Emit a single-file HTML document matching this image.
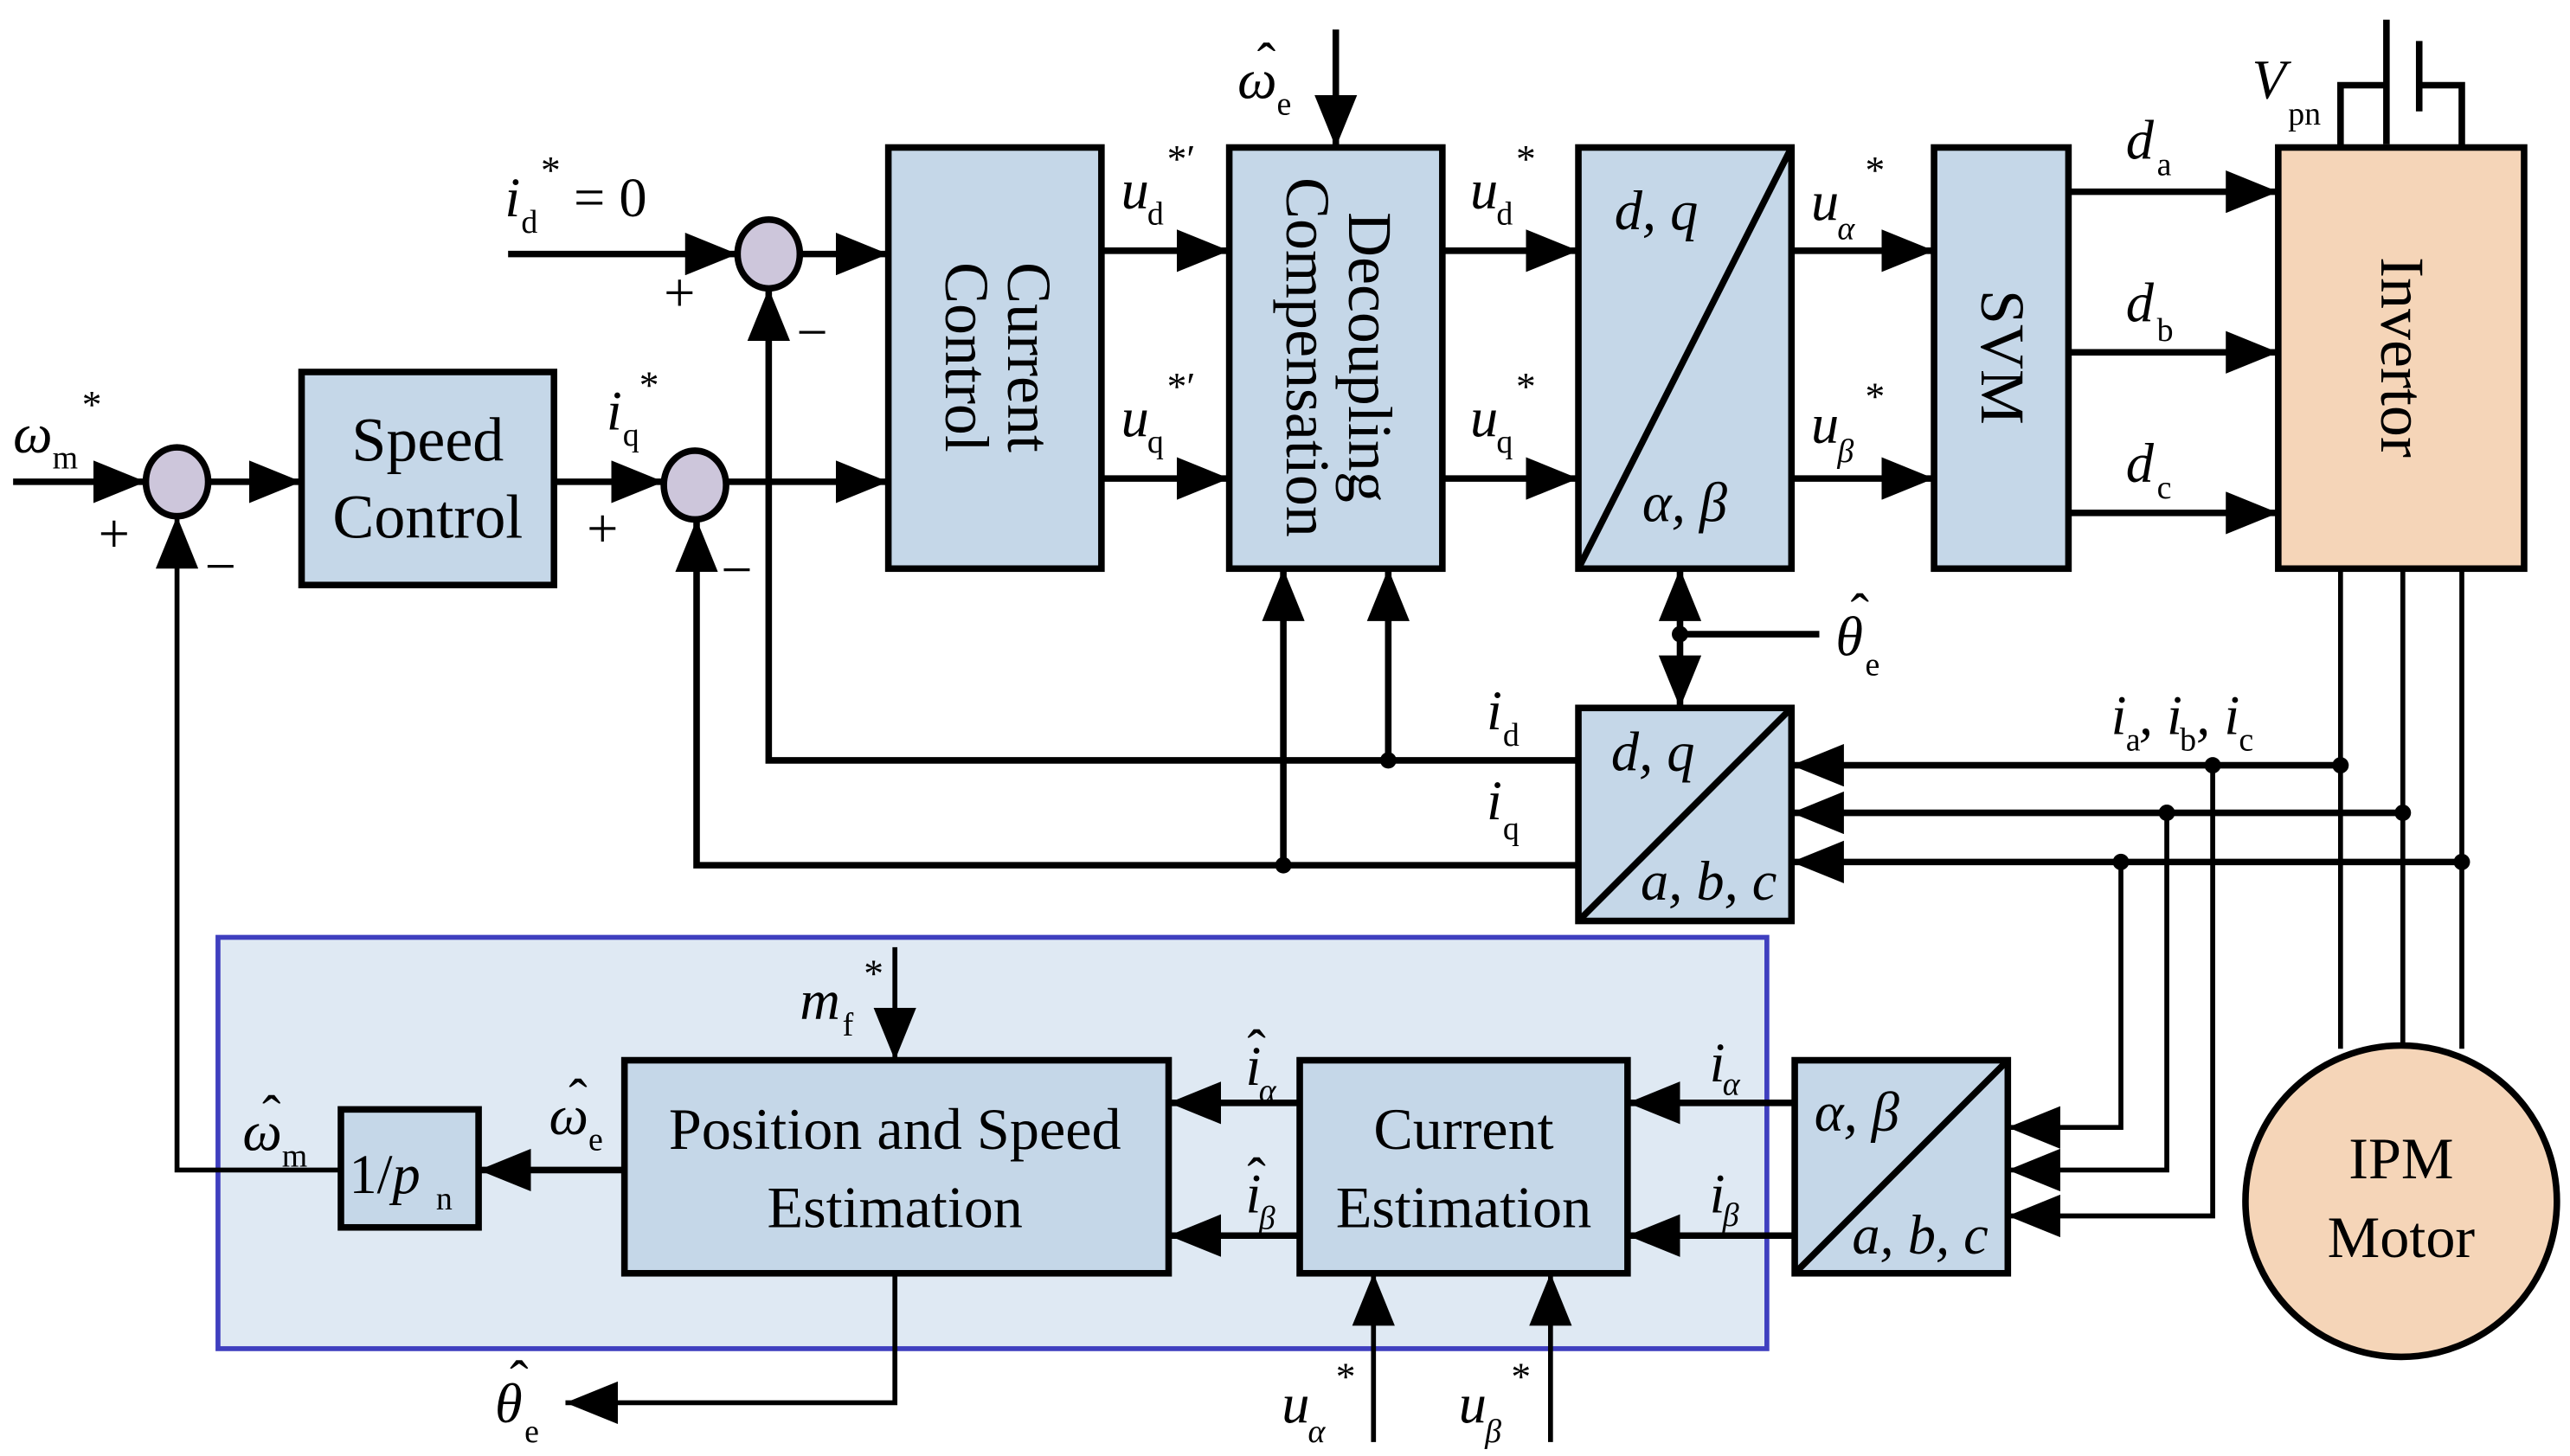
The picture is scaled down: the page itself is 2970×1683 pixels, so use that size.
<!DOCTYPE html>
<html><head><meta charset="utf-8"><style>
html,body{margin:0;padding:0;background:#fff}
svg{display:block}
text{font-family:"Liberation Serif",serif;fill:#000}
.i{font-style:italic}
</style></head><body>
<svg width="2970" height="1683" viewBox="0 0 1568 888.5" preserveAspectRatio="none" xmlns="http://www.w3.org/2000/svg">
<defs>
<marker id="a" markerUnits="userSpaceOnUse" markerWidth="32" markerHeight="26" refX="32" refY="13" orient="auto">
<path d="M0,0 L32,13 L0,26 z" fill="#000"/></marker>
</defs>
<g stroke="#000" stroke-width="4" fill="none">
<rect x="133" y="572" width="945" height="251" fill="#dfe9f3" stroke="#3f3fbf" stroke-width="3"/>
<rect x="184" y="227" width="154" height="130" fill="#c5d7e8"/>
<rect x="542" y="90" width="130" height="257" fill="#c5d7e8"/>
<rect x="750" y="90" width="130" height="257" fill="#c5d7e8"/>
<rect x="963" y="90" width="130" height="257" fill="#c5d7e8"/>
<line x1="1093" y1="90" x2="963" y2="347"/>
<rect x="1180" y="90" width="82" height="257" fill="#c5d7e8"/>
<rect x="1390" y="90" width="150" height="257" fill="#f5d5b8"/>
<rect x="963" y="432" width="130" height="130" fill="#c5d7e8"/>
<line x1="1093" y1="432" x2="963" y2="562"/>
<rect x="381" y="647" width="332" height="130" fill="#c5d7e8"/>
<rect x="793" y="647" width="200" height="130" fill="#c5d7e8"/>
<rect x="1095" y="647" width="130" height="130" fill="#c5d7e8"/>
<line x1="1225" y1="647" x2="1095" y2="777"/>
<rect x="208" y="677" width="84" height="72" fill="#c5d7e8"/>
<ellipse cx="108" cy="294" rx="19" ry="21" fill="#cdc6db"/>
<ellipse cx="424" cy="296" rx="19" ry="21" fill="#cdc6db"/>
<ellipse cx="469" cy="155" rx="19" ry="21" fill="#cdc6db"/>
<circle cx="1465" cy="733" r="95" fill="#f5d5b8"/>
<line x1="8" y1="294" x2="89" y2="294" marker-end="url(#a)"/>
<line x1="127" y1="294" x2="184" y2="294" marker-end="url(#a)"/>
<line x1="338" y1="294" x2="405" y2="294" marker-end="url(#a)"/>
<line x1="443" y1="294" x2="542" y2="294" marker-end="url(#a)"/>
<line x1="310" y1="155" x2="450" y2="155" marker-end="url(#a)"/>
<line x1="488" y1="155" x2="542" y2="155" marker-end="url(#a)"/>
<line x1="672" y1="153" x2="750" y2="153" marker-end="url(#a)"/>
<line x1="672" y1="292" x2="750" y2="292" marker-end="url(#a)"/>
<line x1="815" y1="18" x2="815" y2="90" marker-end="url(#a)"/>
<line x1="880" y1="153" x2="963" y2="153" marker-end="url(#a)"/>
<line x1="880" y1="292" x2="963" y2="292" marker-end="url(#a)"/>
<line x1="1093" y1="153" x2="1180" y2="153" marker-end="url(#a)"/>
<line x1="1093" y1="292" x2="1180" y2="292" marker-end="url(#a)"/>
<line x1="1262" y1="117" x2="1390" y2="117" marker-end="url(#a)"/>
<line x1="1262" y1="215" x2="1390" y2="215" marker-end="url(#a)"/>
<line x1="1262" y1="313" x2="1390" y2="313" marker-end="url(#a)"/>
<polyline points="1428,90 1428,52 1456,52"/>
<polyline points="1502,90 1502,52 1476,52"/>
<line x1="1456" y1="12" x2="1456" y2="88"/>
<line x1="1476" y1="25" x2="1476" y2="68"/>
<line x1="1025" y1="387" x2="1025" y2="347" marker-end="url(#a)"/>
<line x1="1025" y1="387" x2="1025" y2="432" marker-end="url(#a)"/>
<line x1="1025" y1="387" x2="1110" y2="387"/>
<polyline points="963,464 469,464 469,176" marker-end="url(#a)"/>
<polyline points="963,528 425,528 425,317" marker-end="url(#a)"/>
<line x1="847" y1="464" x2="847" y2="347" marker-end="url(#a)"/>
<line x1="783" y1="528" x2="783" y2="347" marker-end="url(#a)"/>
<g stroke-width="3">
<line x1="1428" y1="347" x2="1428" y2="640"/>
<line x1="1466" y1="347" x2="1466" y2="638"/>
<line x1="1502" y1="347" x2="1502" y2="640"/>
<polyline points="1350,467 1350,742 1225,742" marker-end="url(#a)"/>
<polyline points="1322,496 1322,714 1225,714" marker-end="url(#a)"/>
<polyline points="1294,526 1294,688 1225,688" marker-end="url(#a)"/>
</g>
<line x1="1428" y1="467" x2="1093" y2="467" marker-end="url(#a)"/>
<line x1="1466" y1="496" x2="1093" y2="496" marker-end="url(#a)"/>
<line x1="1502" y1="526" x2="1093" y2="526" marker-end="url(#a)"/>
<line x1="1095" y1="673" x2="993" y2="673" marker-end="url(#a)"/>
<line x1="1095" y1="754" x2="993" y2="754" marker-end="url(#a)"/>
<line x1="793" y1="673" x2="713" y2="673" marker-end="url(#a)"/>
<line x1="793" y1="754" x2="713" y2="754" marker-end="url(#a)"/>
<line x1="381" y1="714" x2="292" y2="714" marker-end="url(#a)"/>
<polyline points="208,714 108,714 108,315" marker-end="url(#a)" stroke-width="3"/>
<line x1="546" y1="578" x2="546" y2="647" marker-end="url(#a)" stroke-width="3"/>
<polyline points="546,777 546,856 345,856" marker-end="url(#a)" stroke-width="3"/>
<line x1="838" y1="880" x2="838" y2="777" marker-end="url(#a)" stroke-width="3"/>
<line x1="946" y1="880" x2="946" y2="777" marker-end="url(#a)" stroke-width="3"/>
</g>
<g fill="#000">
<circle cx="1025" cy="387" r="5"/><circle cx="847" cy="464" r="5"/><circle cx="783" cy="528" r="5"/>
<circle cx="1428" cy="467" r="5"/><circle cx="1350" cy="467" r="5"/>
<circle cx="1466" cy="496" r="5"/><circle cx="1322" cy="496" r="5"/>
<circle cx="1502" cy="526" r="5"/><circle cx="1294" cy="526" r="5"/>
</g>
<g font-size="38" text-anchor="middle">
<text x="261" y="281">Speed</text><text x="261" y="328">Control</text>
<text transform="translate(607,218) rotate(90)" y="-8">Current</text>
<text transform="translate(607,218) rotate(90)" y="30">Control</text>
<text transform="translate(815,218) rotate(90)" y="-8">Decoupling</text>
<text transform="translate(815,218) rotate(90)" y="30">Compensation</text>
<text transform="translate(1221,218) rotate(90)" y="12">SVM</text>
<text transform="translate(1465,218) rotate(90)" y="12">Invertor</text>
<text x="546" y="701" font-size="36">Position and Speed</text>
<text x="546" y="749" font-size="36">Estimation</text>
<text x="893" y="701" font-size="36">Current</text>
<text x="893" y="749" font-size="36">Estimation</text>
<text x="1465" y="719" font-size="36">IPM</text>
<text x="1465" y="767" font-size="36">Motor</text>
</g>
<g font-size="34">
<text x="60" y="337">+</text><text x="125" y="357">−</text>
<text x="358" y="334">+</text><text x="440" y="359">−</text>
<text x="405" y="190">+</text><text x="486" y="214">−</text>
<text x="8" y="276" class="i">ω</text><text x="32" y="286" font-size="20">m</text><text x="50" y="255" font-size="24">*</text>
<text x="370" y="262" class="i">i</text><text x="380" y="272" font-size="20">q</text><text x="390" y="243" font-size="24">*</text>
<text x="308" y="132" class="i">i</text><text x="318" y="142" font-size="20">d</text><text x="330" y="112" font-size="24">*</text><text x="350" y="132">= 0</text>
<text x="684" y="127" class="i">u</text><text x="700" y="137" font-size="20">d</text><text x="712" y="105" font-size="24">*′</text>
<text x="684" y="266" class="i">u</text><text x="700" y="276" font-size="20">q</text><text x="712" y="244" font-size="24">*′</text>
<text x="755" y="60" class="i">ω</text><text x="767" y="50">ˆ</text><text x="779" y="70" font-size="20">e</text>
<text x="897" y="127" class="i">u</text><text x="913" y="137" font-size="20">d</text><text x="925" y="105" font-size="24">*</text>
<text x="897" y="266" class="i">u</text><text x="913" y="276" font-size="20">q</text><text x="925" y="244" font-size="24">*</text>
<text x="985" y="140" class="i">d, q</text><text x="1002" y="318" class="i">α, β</text>
<text x="1105" y="134" class="i">u</text><text x="1121" y="146" font-size="20" class="i">α</text><text x="1138" y="112" font-size="24">*</text>
<text x="1105" y="270" class="i">u</text><text x="1121" y="282" font-size="20" class="i">β</text><text x="1138" y="250" font-size="24">*</text>
<text x="1297" y="97" class="i">d</text><text x="1316" y="107" font-size="20">a</text>
<text x="1297" y="196" class="i">d</text><text x="1316" y="208" font-size="20">b</text>
<text x="1297" y="294" class="i">d</text><text x="1316" y="304" font-size="20">c</text>
<text x="1374" y="60" class="i">V</text><text x="1396" y="76" font-size="20">pn</text>
<text x="1120" y="400" class="i">θ</text><text x="1129" y="386">ˆ</text><text x="1138" y="412" font-size="20">e</text>
<text x="907" y="445" class="i">i</text><text x="917" y="455" font-size="20">d</text>
<text x="907" y="500" class="i">i</text><text x="917" y="512" font-size="20">q</text>
<text x="983" y="470" class="i">d, q</text><text x="1001" y="549" class="i">a, b, c</text>
<text x="1288" y="448" class="i">i</text><text x="1297" y="458" font-size="20">a</text><text x="1305" y="448" class="i">, i</text><text x="1330" y="458" font-size="20">b</text><text x="1340" y="448" class="i">, i</text><text x="1366" y="458" font-size="20">c</text>
<text x="488" y="622" class="i">m</text><text x="514" y="632" font-size="20">f</text><text x="527" y="602" font-size="24">*</text>
<text x="148" y="702" class="i">ω</text><text x="160" y="692">ˆ</text><text x="172" y="712" font-size="20">m</text>
<text x="213" y="728">1/<tspan class="i">p</tspan></text><text x="266" y="738" font-size="20">n</text>
<text x="335" y="692" class="i">ω</text><text x="347" y="682">ˆ</text><text x="359" y="702" font-size="20">e</text>
<text x="760" y="662" class="i">i</text><text x="761" y="652">ˆ</text><text x="768" y="672" font-size="20" class="i">α</text>
<text x="760" y="740" class="i">i</text><text x="761" y="730">ˆ</text><text x="768" y="750" font-size="20" class="i">β</text>
<text x="1043" y="660" class="i">i</text><text x="1051" y="668" font-size="20" class="i">α</text>
<text x="1043" y="740" class="i">i</text><text x="1051" y="748" font-size="20" class="i">β</text>
<text x="1107" y="690" class="i">α, β</text><text x="1130" y="765" class="i">a, b, c</text>
<text x="302" y="868" class="i">θ</text><text x="311" y="854">ˆ</text><text x="320" y="880" font-size="20">e</text>
<text x="782" y="868" class="i">u</text><text x="798" y="880" font-size="20" class="i">α</text><text x="815" y="848" font-size="24">*</text>
<text x="890" y="868" class="i">u</text><text x="906" y="880" font-size="20" class="i">β</text><text x="922" y="848" font-size="24">*</text>
</g>
</svg>
</body></html>
